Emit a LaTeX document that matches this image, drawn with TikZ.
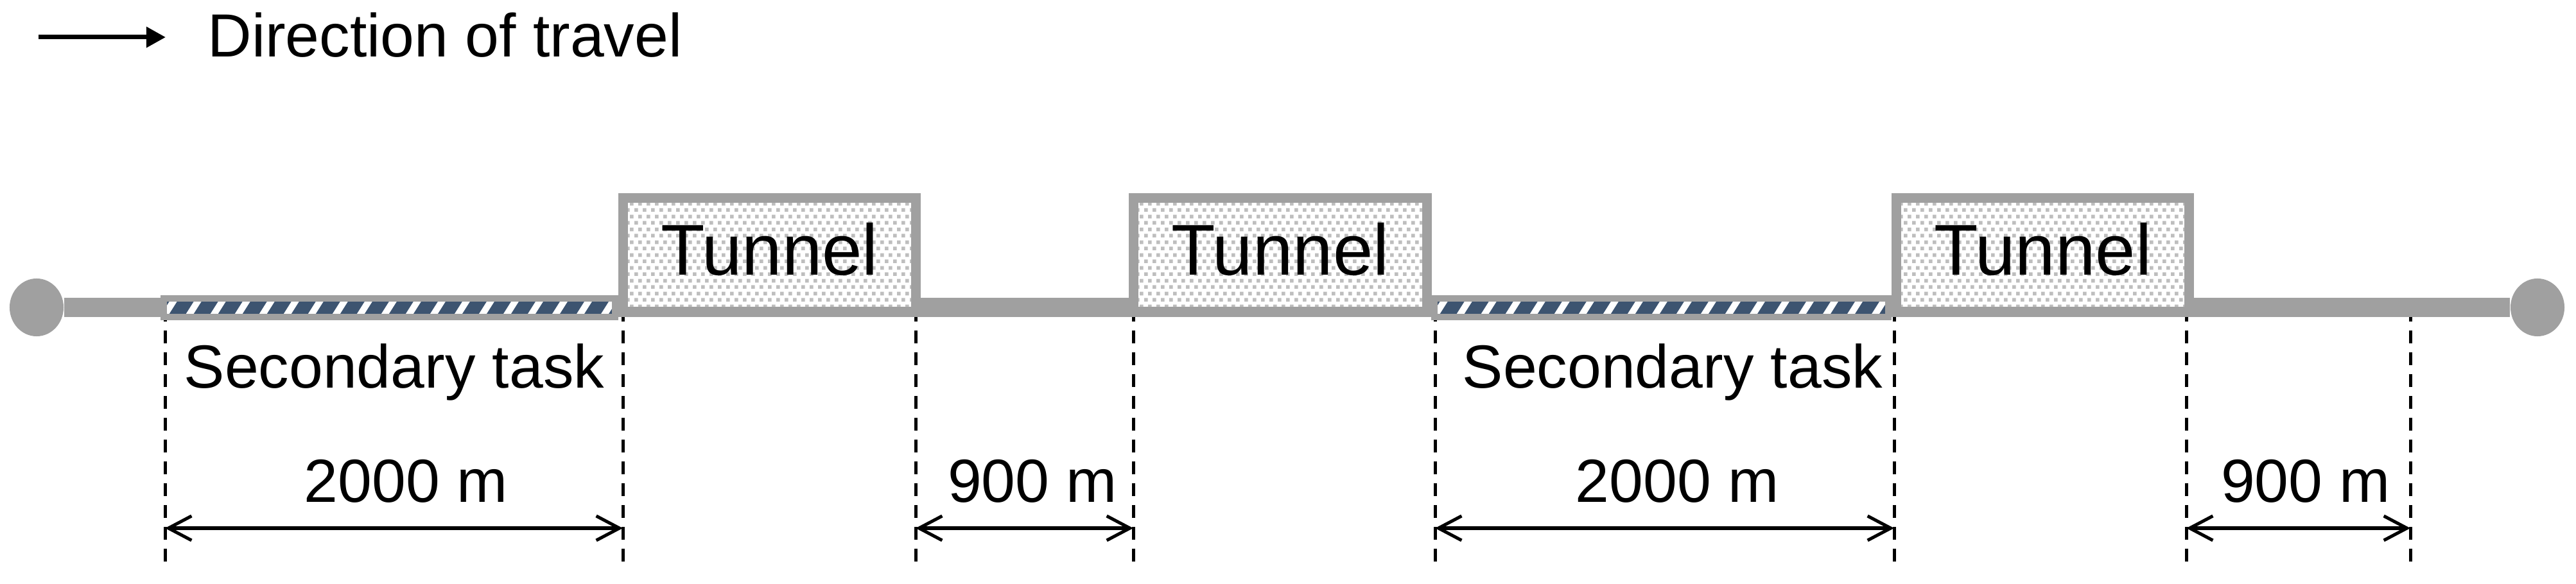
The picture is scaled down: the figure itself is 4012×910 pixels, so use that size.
\documentclass[tikz,border=0pt]{standalone}
\usepackage{fontspec}
\setmainfont{Liberation Sans}
\usepackage{xcolor}
\usetikzlibrary{
    arrows.meta,
    shapes.geometric,
    patterns
}
\definecolor{trackgray}{RGB}{160,160,160}
\definecolor{taskblue}{RGB}{61,84,112}
\definecolor{dotgray}{RGB}{190,190,190}

\pgfdeclarepatternformonly{tunneldots}{\pgfqpoint{0pt}{0pt}}{\pgfqpoint{3.699pt}{5.691pt}}{\pgfqpoint{3.699pt}{5.691pt}}{
    \pgfpathrectangle{\pgfqpoint{0pt}{0pt}}{\pgfqpoint{1.707pt}{1.707pt}}
    \pgfpathrectangle{\pgfqpoint{1.849pt}{2.845pt}}{\pgfqpoint{1.707pt}{1.707pt}}
    \pgfusepath{fill}
}

\tikzset{
    track/.style={
        draw=trackgray,
        line width=3mm
    },
    endpoint/.style={
        ellipse,
        fill=trackgray,
        minimum width=8.4mm,
        minimum height=9mm,
        inner sep=0pt
    },
    tunnel/.style={
        rectangle,
        draw=trackgray,
        line width=1.5mm,
        preaction={fill=white},
        pattern=tunneldots,
        pattern color=dotgray,
        minimum width=45.6mm,
        minimum height=17.65mm,
        inner sep=0pt,
        text height=8.1mm,
        text depth=1.8mm,
        font=\fontsize{31.9pt}{38pt}\selectfont
    },
    taskstrip/.style={
        rectangle,
        draw=trackgray,
        line width=1mm,
        fill=taskblue,
        minimum height=2.85mm,
        inner sep=0pt,
        path picture={
            \foreach \k in {-1,...,19}
                \draw[white, line width=1mm]
                    ([xshift=\k*3.8mm]path picture bounding box.south west) -- ++(1.8mm,2.85mm);
        }
    },
    guide/.style={
        dash pattern=on 2mm off 1.4mm,
        line width=0.5mm
    },
    dimarrow/.style={
        {Straight Barb[length=3.6mm,width=3.8mm]}-{Straight Barb[length=3.6mm,width=3.8mm]},
        line width=0.5mm
    },
    legendarrow/.style={
        -{Triangle[length=3mm,width=3.1mm]},
        line width=0.7mm
    },
    textlabel/.style={
        inner sep=0pt,
        font=\fontsize{27pt}{32pt}\selectfont
    }
}

\begin{document}
\begin{tikzpicture}[x=0.01cm, y=-0.01cm]
\useasboundingbox (0,0) rectangle (4012,910);

% legend
\coordinate (dirA) at (60,58);
\coordinate (dirB) at (258,58);
\draw[legendarrow] (dirA) -- (dirB);
\node[textlabel, anchor=base west] (legend) at (323,89) {Direction of travel};

% dashed guides
\foreach \gx [count=\i] in {257,970,1426,1765,2235,2950,3405,3754} {
    \coordinate (gtop\i) at (\gx,481);
    \coordinate (gbot\i) at (\gx,875);
    \coordinate (gdim\i) at (\gx,823);
    \draw[guide] (gtop\i) -- (gbot\i);
}

% route
\node[endpoint] (origin) at (57,479) {};
\node[endpoint] (terminus) at (3952,479) {};
\draw[track] (origin) -- (terminus);

\node[taskstrip, minimum width=70.3mm] (strip1) at (606.5,479.25) {};
\node[taskstrip, minimum width=70.7mm] (strip2) at (2587.5,479.25) {};

\node[tunnel] (tunnel1) at (1198.5,396.75) {Tunnel};
\node[tunnel] (tunnel2) at (1994,396.75) {Tunnel};
\node[tunnel] (tunnel3) at (3181.5,396.75) {Tunnel};

% labels and lengths
\node[textlabel, anchor=base] (task1) at (614,605) {Secondary task};
\node[textlabel, anchor=base] (task2) at (2605,605) {Secondary task};

\node[textlabel, anchor=base] (len1) at (632,782) {2000 m};
\node[textlabel, anchor=base] (len2) at (1608,782) {900 m};
\node[textlabel, anchor=base] (len3) at (2612,782) {2000 m};
\node[textlabel, anchor=base] (len4) at (3591,782) {900 m};

\draw[dimarrow] (gdim1) -- (gdim2);
\draw[dimarrow] (gdim3) -- (gdim4);
\draw[dimarrow] (gdim5) -- (gdim6);
\draw[dimarrow] (gdim7) -- (gdim8);
\end{tikzpicture}
\end{document}
